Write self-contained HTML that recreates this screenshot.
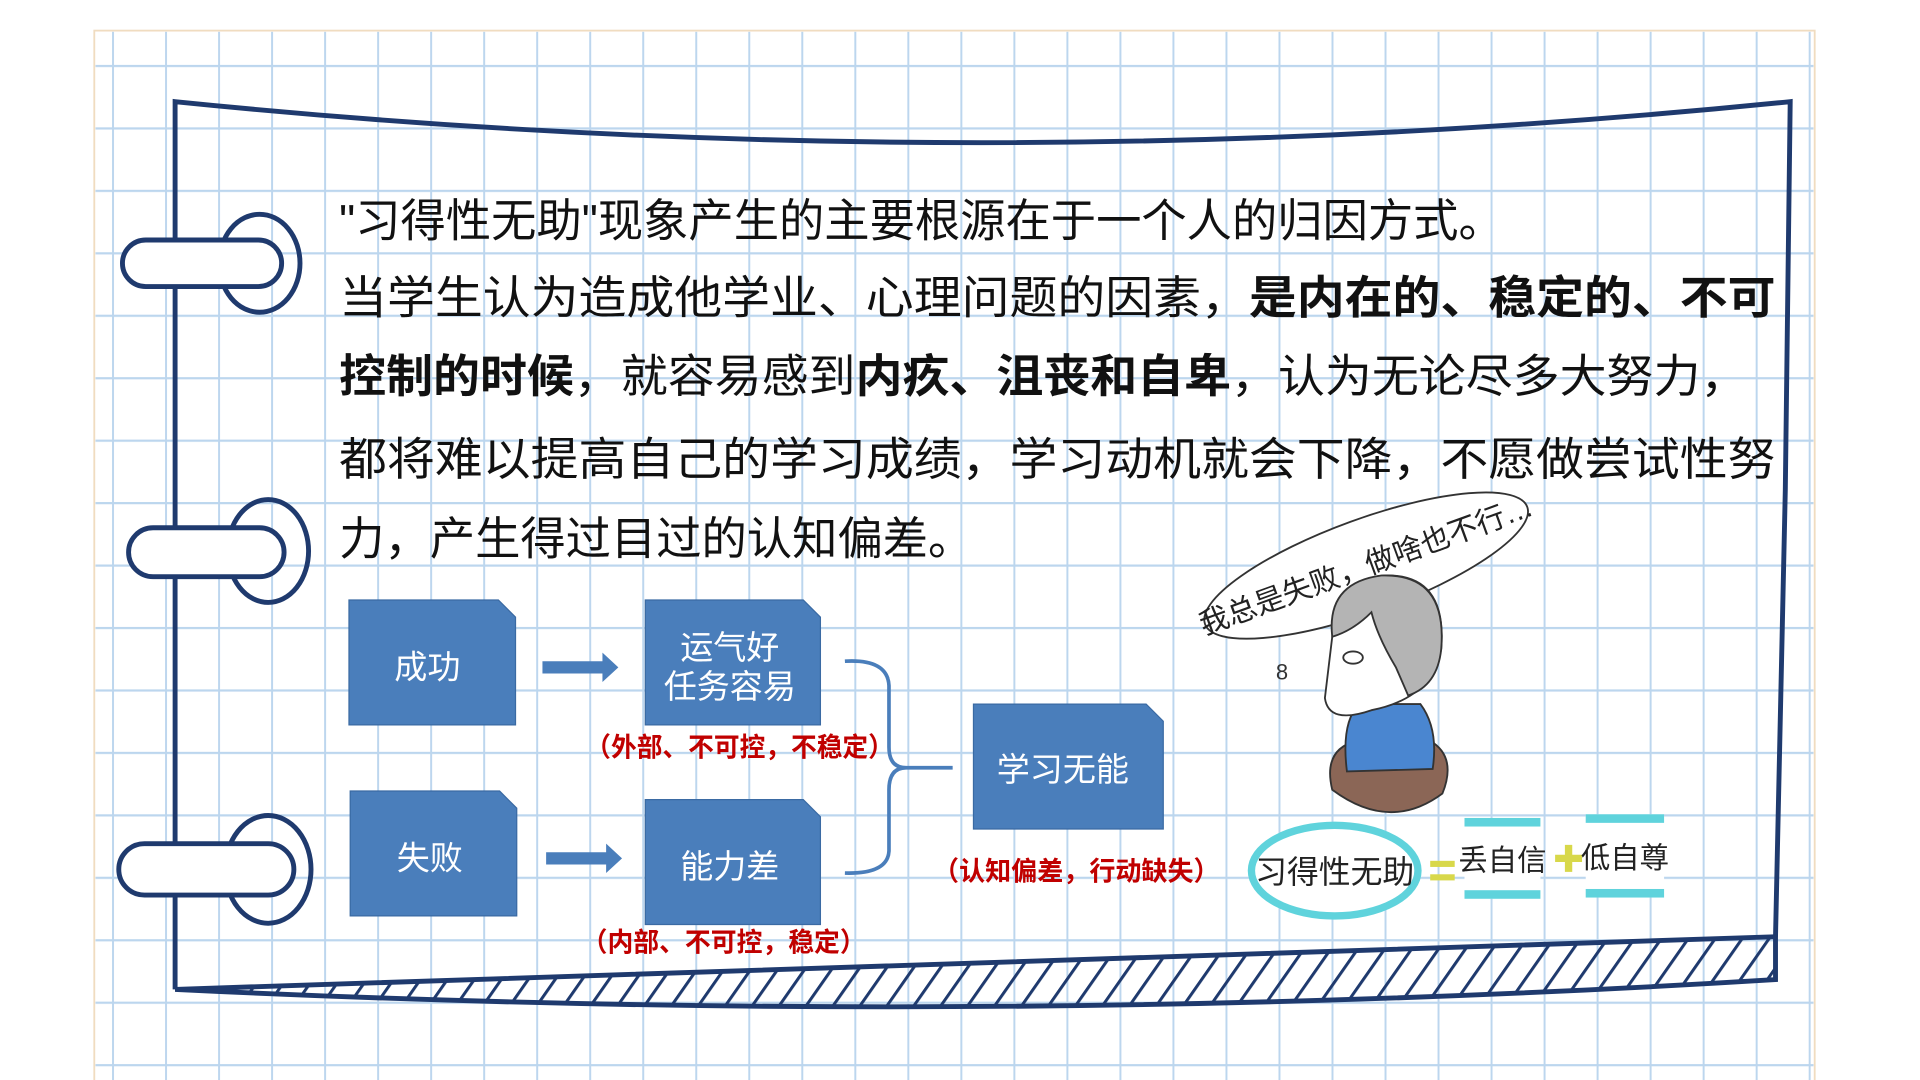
<!DOCTYPE html>
<html><head><meta charset="utf-8"><style>
html,body{margin:0;padding:0;background:#fff;width:1920px;height:1080px;overflow:hidden}
svg{display:block}
text{font-family:"Liberation Sans","Noto Sans CJK SC",sans-serif}
</style></head><body>
<svg width="1920" height="1080" viewBox="0 0 1568 882" preserveAspectRatio="none" xmlns="http://www.w3.org/2000/svg">
<defs>
<pattern id="gv" x="91.5" y="0" width="43.3" height="882" patternUnits="userSpaceOnUse"><rect x="0" y="0" width="1.6" height="882" fill="#bcd6ee"/></pattern>
<pattern id="gh" x="0" y="2" width="1568" height="51" patternUnits="userSpaceOnUse"><rect x="0" y="0" width="1568" height="1.8" fill="#bcd6ee"/></pattern>
<pattern id="hatch" width="22" height="40" patternUnits="userSpaceOnUse" patternTransform="skewX(-35)"><rect x="0" y="0" width="3" height="40" fill="#1f3a6e"/></pattern>
</defs>
<rect x="77" y="25" width="1405" height="860" fill="#fff" stroke="#f0dcc0" stroke-width="1.5"/>
<rect x="78" y="26" width="1403" height="856" fill="url(#gv)"/>
<rect x="78" y="26" width="1403" height="856" fill="url(#gh)"/>
<!-- frame -->
<path d="M143,808 L143,83 Q800,150 1462,83 L1458,400 L1450,765" fill="none" stroke="#1f3a6e" stroke-width="4"/>
<path d="M143,808 L1450,765 L1450,800 Q800,840 143,808 Z" fill="url(#hatch)" stroke="#1f3a6e" stroke-width="4"/>
<!-- rings -->
<g fill="none" stroke="#1f3a6e" stroke-width="4">
<ellipse cx="212" cy="215" rx="33" ry="40"/>
<rect x="100" y="196" width="130" height="38" rx="19" fill="#fff"/>
<ellipse cx="219" cy="450" rx="33" ry="42"/>
<rect x="105" y="431" width="127" height="40" rx="20" fill="#fff"/>
<ellipse cx="219" cy="710" rx="35" ry="44"/>
<rect x="97" y="689" width="143" height="42" rx="21" fill="#fff"/>
</g>
<!-- main text -->
<g font-size="37" fill="#111">
<text x="277" y="193">"习得性无助"现象产生的主要根源在于一个人的归因方式。</text>
<text x="277" y="256" textLength="1173" lengthAdjust="spacingAndGlyphs">当学生认为造成他学业、心理问题的因素，<tspan font-weight="bold">是内在的、稳定的、不可</tspan></text>
<text x="277" y="320" textLength="1150" lengthAdjust="spacingAndGlyphs"><tspan font-weight="bold">控制的时候</tspan>，就容易感到<tspan font-weight="bold">内疚、沮丧和自卑</tspan>，认为无论尽多大努力，</text>
<text x="277" y="388" textLength="1173" lengthAdjust="spacingAndGlyphs">都将难以提高自己的学习成绩，学习动机就会下降，不愿做尝试性努</text>
<text x="277" y="453">力，产生得过目过的认知偏差。</text>
</g>
<!-- boxes -->
<g fill="#4a7ebb" stroke="#3a6aa3" stroke-width="1">
<path d="M285,490 H407 L421,504 V592 H285 Z"/>
<path d="M527,490 H656 L670,504 V592 H527 Z"/>
<path d="M286,646 H408 L422,660 V748 H286 Z"/>
<path d="M527,653 H656 L670,667 V755 H527 Z"/>
<path d="M795,575 H936 L950,589 V677 H795 Z"/>
</g>
<g fill="#fff" font-size="27" text-anchor="middle">
<text x="349" y="554">成功</text>
<text x="596" y="538">运气好</text>
<text x="596" y="570">任务容易</text>
<text x="351" y="710">失败</text>
<text x="596" y="717">能力差</text>
<text x="868" y="638">学习无能</text>
</g>
<!-- arrows -->
<g fill="#4a7ebb">
<path d="M443,540 H492 V533 L505,545 L492,557 V550 H443 Z"/>
<path d="M446,696 H495 V689 L508,701 L495,713 V706 H446 Z"/>
</g>
<path d="M690,540 Q725,538 726,560 V610 Q726,627 740,627 H778 M740,627 Q726,627 726,645 V695 Q725,714 690,713" fill="none" stroke="#4a7ebb" stroke-width="3"/>
<g fill="#c00000" font-size="22" font-weight="bold">
<text x="478" y="618" textLength="252" lengthAdjust="spacingAndGlyphs">（外部、不可控，不稳定）</text>
<text x="475" y="777" textLength="232" lengthAdjust="spacingAndGlyphs">（内部、不可控，稳定）</text>
<text x="762" y="719" textLength="234" lengthAdjust="spacingAndGlyphs">（认知偏差，行动缺失）</text>
</g>
<!-- cartoon -->
<g transform="rotate(-20 1115 460)">
<ellipse cx="1115" cy="462" rx="140" ry="38" fill="#fff" stroke="#333" stroke-width="1.5"/>
<text x="1115" y="470" font-size="24" text-anchor="middle" fill="#222">我总是失败，做啥也不行…</text>
</g>
<text x="1042" y="555" font-size="18" fill="#333">8</text>
<path d="M1088,645 Q1080,612 1108,605 H1168 Q1190,618 1178,648 Q1135,680 1088,645 Z" fill="#8b6656" stroke="#333" stroke-width="1.5"/>
<path d="M1100,630 Q1095,590 1110,575 H1160 Q1175,595 1170,628 Z" fill="#4a86d0" stroke="#333" stroke-width="1.5"/>
<path d="M1130,470 Q1182,468 1177,530 Q1170,570 1120,580 Q1085,592 1082,570 L1088,520 Q1093,473 1130,470 Z" fill="#fff" stroke="#333" stroke-width="1.5"/>
<path d="M1088,520 Q1083,476 1128,470 Q1182,468 1177,530 Q1174,560 1150,568 L1140,545 Q1125,520 1120,500 Q1105,515 1088,520 Z" fill="#b4b4b4" stroke="#333" stroke-width="1.5"/>
<ellipse cx="1105" cy="537" rx="8" ry="5" fill="none" stroke="#333" stroke-width="1.5"/>
<ellipse cx="1090" cy="711" rx="68" ry="37" fill="#fff" stroke="#5fd3dc" stroke-width="6"/>
<text x="1090" y="721" font-size="26" text-anchor="middle" fill="#222">习得性无助</text>
<rect x="1168" y="703" width="20" height="5" fill="#d8d84a"/><rect x="1168" y="714" width="20" height="5" fill="#d8d84a"/>
<rect x="1196" y="668" width="62" height="66" fill="#fff"/><rect x="1196" y="668" width="62" height="7" fill="#5fd3dc"/><rect x="1196" y="727" width="62" height="7" fill="#5fd3dc"/>
<text x="1227" y="711" font-size="24" text-anchor="middle" fill="#222">丢自信</text>
<path d="M1270,698 h8 v-8 h6 v8 h8 v6 h-8 v8 h-6 v-8 h-8 Z" fill="#d8d84a"/>
<rect x="1295" y="665" width="64" height="68" fill="#fff"/><rect x="1295" y="665" width="64" height="7" fill="#5fd3dc"/><rect x="1295" y="726" width="64" height="7" fill="#5fd3dc"/>
<text x="1327" y="709" font-size="24" text-anchor="middle" fill="#222">低自尊</text>
</svg>
</body></html>
